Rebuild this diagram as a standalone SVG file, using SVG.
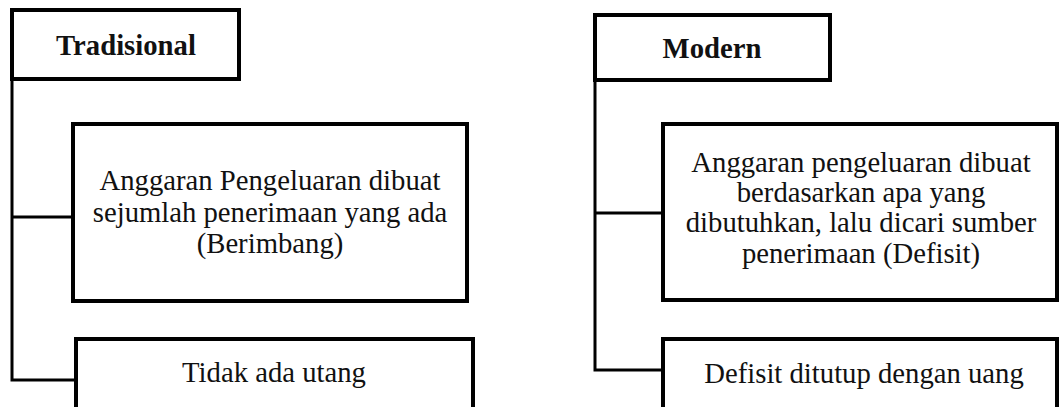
<svg xmlns="http://www.w3.org/2000/svg" width="1059" height="407" viewBox="0 0 1059 407">
<style>
.box{fill:#fff;stroke:#000;stroke-width:4}
.con{fill:none;stroke:#000;stroke-width:3}
.t{font-family:"Liberation Serif","Times New Roman",serif;font-size:28.7px;fill:#111;text-anchor:middle}
.h{font-weight:bold}
</style>
<rect width="1059" height="407" fill="#fff"/>
<g id="connectors">
<path class="con" d="M12,79 V380 H75"/>
<path class="con" d="M12,217 H72"/>
<path class="con" d="M595,80 V370 H662"/>
<path class="con" d="M595,213 H662"/>
</g>
<g id="tradisional">
<rect class="box" x="12" y="10" width="227" height="69"/>
<text class="t h" x="126" y="55">Tradisional</text>
</g>
<g id="trad-anggaran">
<rect class="box" x="73" y="124" width="394" height="177"/>
<text class="t" x="270" y="190">Anggaran Pengeluaran dibuat</text>
<text class="t" x="270" y="221.5">sejumlah penerimaan yang ada</text>
<text class="t" x="270" y="253">(Berimbang)</text>
</g>
<g id="trad-utang">
<rect class="box" x="76" y="339" width="397" height="90"/>
<text class="t" x="274" y="382">Tidak ada utang</text>
</g>
<g id="modern">
<rect class="box" x="595" y="15" width="235" height="65"/>
<text class="t h" x="712" y="58">Modern</text>
</g>
<g id="modern-anggaran">
<rect class="box" x="663" y="124" width="394" height="176"/>
<text class="t" x="861" y="172">Anggaran pengeluaran dibuat</text>
<text class="t" x="861" y="202">berdasarkan apa yang</text>
<text class="t" x="861" y="232">dibutuhkan, lalu dicari sumber</text>
<text class="t" x="861" y="263">penerimaan (Defisit)</text>
</g>
<g id="modern-defisit">
<rect class="box" x="663" y="339" width="394" height="90"/>
<text class="t" x="864" y="383">Defisit ditutup dengan uang</text>
</g>
</svg>
